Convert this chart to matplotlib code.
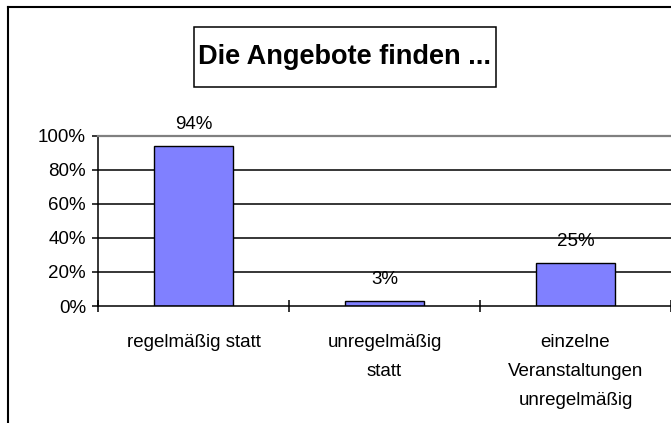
import matplotlib
matplotlib.use("Agg")
import matplotlib.pyplot as plt
from matplotlib.lines import Line2D
from matplotlib.patches import Rectangle
import numpy as np

plt.rcParams['font.family'] = ['Liberation Sans', 'DejaVu Sans']

# chart data
title = "Die Angebote finden ..."
categories = ["regelmäßig statt", "unregelmäßig\nstatt", "einzelne\nVeranstaltungen\nunregelmäßig"]
shares = [94, 3, 25]
yticks = [0, 20, 40, 60, 80, 100]

W, H = 671, 423
fig = plt.figure(figsize=(W / 100, H / 100), dpi=100)

# outer chart frame (only left and top are visible)
fx, fy = 8.3 / W, 1 - 7.5 / H
fig.add_artist(Line2D([fx, fx], [0, fy], transform=fig.transFigure, color="black", lw=1.5))
fig.add_artist(Line2D([fx, 1], [fy, fy], transform=fig.transFigure, color="black", lw=1.5))

# title with box
fig.add_artist(Rectangle((194 / W, 1 - 86.7 / H), 302 / W, 60 / H, transform=fig.transFigure,
                         fill=False, edgecolor="black", lw=1.1))
fig.text(345 / W, 1 - 57.5 / H, title, ha="center", va="center",
         fontsize=19.5, fontweight="bold")

ax = fig.add_axes([98 / W, 1 - 306 / H, 573 / W, (306 - 135.7) / H])

x = np.arange(len(categories))
bars = ax.bar(x, shares, width=0.41, color="#8080FF", edgecolor="black", linewidth=1.0, zorder=3)

for xi, v in zip(x, shares):
    ax.annotate(f"{v}%", (xi, v), xytext=(0, 12.5), textcoords="offset points",
                ha="center", va="baseline", fontsize=13.5)

ax.set_xlim(-0.5, len(categories) - 0.5)
ax.set_ylim(0, 100)
ax.set_yticks(yticks)
ax.set_yticklabels([f"{t}%" for t in yticks])

ax.set_xticks(x)
ax.set_xticklabels(categories, linespacing=1.95)
ax.set_xticks(np.arange(len(categories) + 1) - 0.5, minor=True)
ax.tick_params(axis="x", which="major", length=0, pad=20, labelsize=13.5)
ax.tick_params(axis="x", which="minor", direction="inout", length=8.6, width=1.1)
ax.tick_params(axis="y", direction="out", length=4.3, width=1.1, pad=4.3, labelsize=13.5)

# gridlines
for t in yticks[1:-1]:
    ax.axhline(t, color="black", lw=1.1, zorder=1)

ax.spines["top"].set_color("#808080")
ax.spines["top"].set_linewidth(1.6)
ax.spines["right"].set_visible(False)
ax.spines["left"].set_linewidth(1.1)
ax.spines["bottom"].set_linewidth(1.1)
ax.spines["bottom"].set_zorder(4)

fig.savefig("out.png", dpi=100)
